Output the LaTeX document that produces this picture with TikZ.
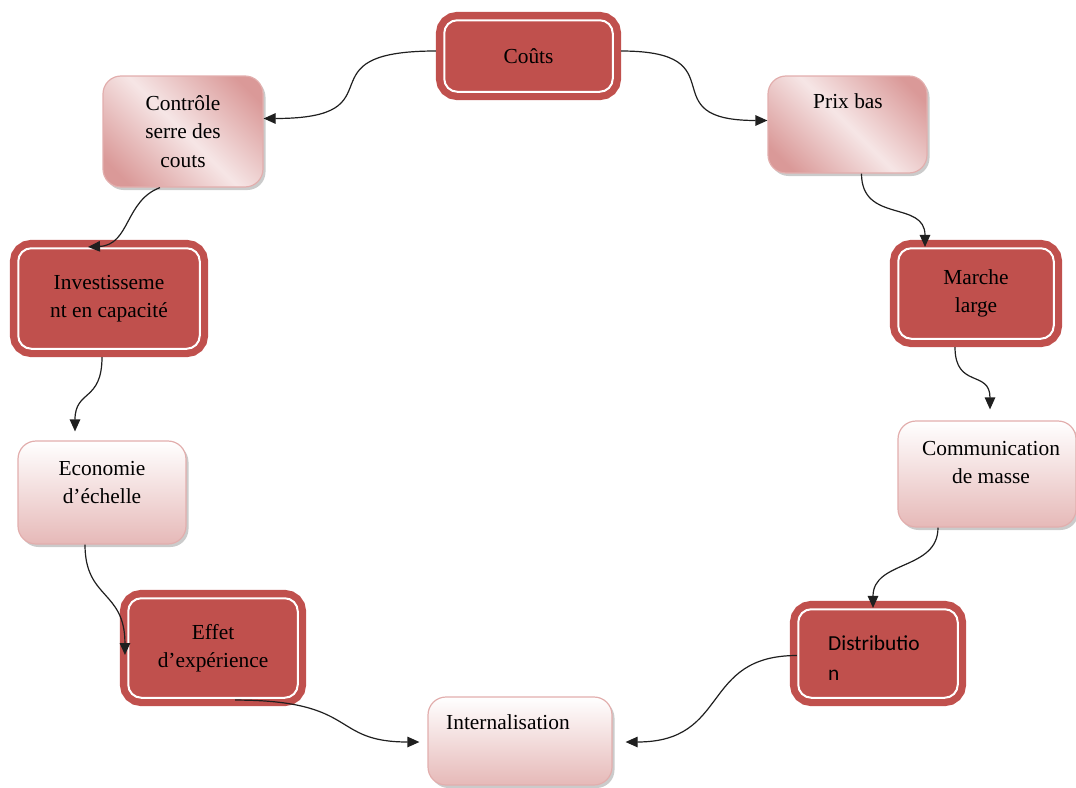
\documentclass[tikz,border=0pt]{standalone}
\usepackage{fontspec}
\setmainfont{Liberation Serif}
\newfontfamily\carlito{Carlito}
\usetikzlibrary{arrows.meta,shadows,calc}
\definecolor{dkred}{HTML}{C0504D}
\definecolor{pkD}{HTML}{DA9998}
\definecolor{pkL}{HTML}{F6E6E6}
\definecolor{pkB}{HTML}{E2AEAD}
\definecolor{pkV}{HTML}{E6B9B8}
\pgfdeclarehorizontalshading{pinkdiag}{100bp}{color(0bp)=(pkD); color(22bp)=(pkD); color(50bp)=(pkL); color(78bp)=(pkD); color(100bp)=(pkD)}
\tikzset{
  txt/.style={font=\fontsize{21.4}{28.5}\selectfont, align=center, inner sep=0pt},
  darkbox/.style={txt, rectangle, rounded corners=13pt, fill=dkred, draw=dkred,
    line width=7.3pt, double=white, double distance=2pt, outer sep=8.3pt},
  lightbase/.style={txt, rectangle, rounded corners=18pt, draw=pkB, line width=1.2pt,
    drop shadow={shadow xshift=2.5pt, shadow yshift=-3pt, fill=black!45, opacity=.45}},
  diagbox/.style={lightbase, shading=pinkdiag, shading angle=45},
  vertbox/.style={lightbase, top color=white, bottom color=pkV},
  conn/.style={draw=black!88, line width=1.2pt, -{Triangle[length=12pt,width=10.5pt]}}
}
\begin{document}
\begin{tikzpicture}[x=1pt,y=-1pt]
\useasboundingbox (0,0) rectangle (1076,787);
% dark boxes
\node[darkbox, minimum width=168.5pt, minimum height=71.5pt] (couts) at (528.5,56) {Coûts};
\node[darkbox, minimum width=181.5pt, minimum height=100.5pt] (invest) at (109,298.5) {Investisseme\\nt en capacité};
\node[darkbox, minimum width=155.5pt, minimum height=90.5pt] (marche) at (976,293.5) {Marche\\large};
\node[darkbox, minimum width=169.5pt, minimum height=99.5pt] (effet) at (213,648) {Effet\\d’expérience};
\node[darkbox, minimum width=159.5pt, minimum height=88.5pt] (distrib) at (878,653.5) {};
\node[txt, align=left, anchor=west, font=\carlito\fontsize{21.4}{30}\selectfont] (distribt) at (828,658) {Distributio\\n};
% light boxes
\node[diagbox, minimum width=160pt, minimum height=111pt] (controle) at (183,131.5) {Contrôle\\serre des\\couts};
\node[diagbox, minimum width=159pt, minimum height=97pt] (prix) at (847.5,124.5) {};
\node[txt] (prixt) at (848,101) {Prix bas};
\node[vertbox, minimum width=178pt, minimum height=106pt] (comm) at (987,474) {};
\node[txt] (commt) at (991,462.5) {Communication\\de masse};
\node[vertbox, minimum width=168pt, minimum height=103pt] (eco) at (102,492.5) {};
\node[txt] (ecot) at (102,482.5) {Economie\\d’échelle};
\node[vertbox, minimum width=184pt, minimum height=88pt] (intern) at (520,741) {};
\node[txt, anchor=west] (internt) at (446,722) {Internalisation};
% connectors
\draw[conn] ($(couts.west)+(0,-5)$) .. controls +(-140,0) and +(140,0) .. ($(controle.east)+(0,-13)$);
\draw[conn] ($(couts.east)+(0,-5)$) .. controls +(120,0) and +(-120,0) .. ($(prix.west)+(0,-4)$);
\draw[conn] ($(controle.south)+(-23,0)$) .. controls +(-35,13) and +(42,-2) .. ($(invest.north)+(-21,7)$);
\draw[conn] ($(invest.south)+(-7,0)$) .. controls +(0,45) and +(0,-42) .. ($(eco.north)+(-27,-9)$);
\draw[conn] ($(eco.south)+(-17,0)$) .. controls +(0,55) and +(0,-65) .. ($(effet.west)+(5,7)$);
\draw[conn] ($(effet.south)+(22,-6)$) .. controls +(125,0) and +(-90,0) .. ($(intern.west)+(-8,1)$);
\draw[conn] ($(prix.south)+(14,0)$) .. controls +(0,50) and +(0,-47) .. ($(marche.north)+(-51,7)$);
\draw[conn] ($(marche.south)+(-21,0)$) .. controls +(0,42) and +(0,-40) .. ($(comm.north)+(3,-11)$);
\draw[conn] ($(comm.south)+(-49,0)$) .. controls +(0,43) and +(0,-48) .. ($(distrib.north)+(-5,7)$);
\draw[conn] ($(distrib.west)+(7,2)$) .. controls +(-97,0) and +(105,0) .. ($(intern.east)+(13,1)$);
\end{tikzpicture}
\end{document}
